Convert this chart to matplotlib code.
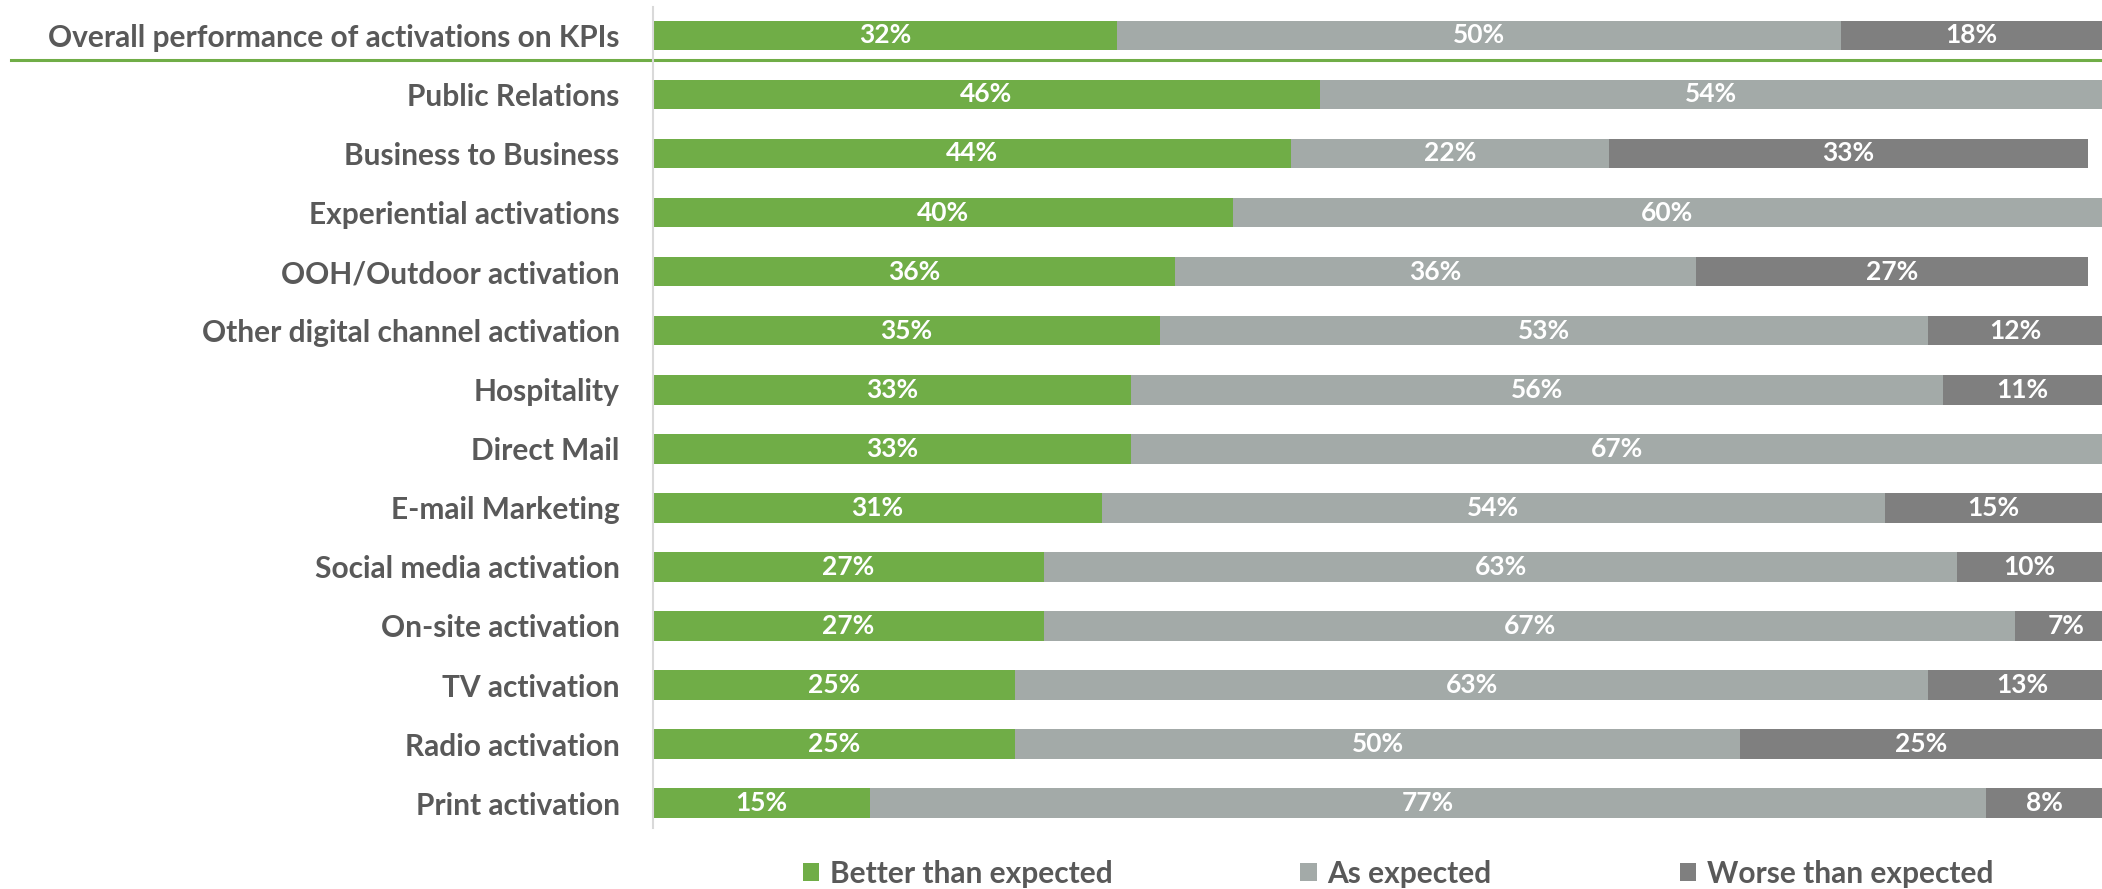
import matplotlib.pyplot as plt
import numpy as np
from matplotlib.transforms import blended_transform_factory

# resultados das ativações (percentual das respostas)
categorias = ["Overall performance of activations on KPIs", "Public Relations",
              "Business to Business", "Experiential activations", "OOH/Outdoor activation",
              "Other digital channel activation", "Hospitality", "Direct Mail",
              "E-mail Marketing", "Social media activation", "On-site activation",
              "TV activation", "Radio activation", "Print activation"]
melhor = [32, 46, 44, 40, 36, 35, 33, 33, 31, 27, 27, 25, 25, 15]
esperado = [50, 54, 22, 60, 36, 53, 56, 67, 54, 63, 67, 63, 50, 77]
pior = [18, 0, 33, 0, 27, 12, 11, 0, 15, 10, 7, 13, 25, 8]
series = ["Better than expected", "As expected", "Worse than expected"]

cores = ["#70AD47", "#A3AAA8", "#7F7F7F"]
cinza_texto = "#595959"
plt.rcParams['font.family'] = ['Lato', 'DejaVu Sans']
plt.rcParams['font.weight'] = 'bold'

fig = plt.figure(figsize=(21.02, 8.89), dpi=100)
ax = fig.add_axes([653/2102, 61/889, 1 - 653/2102, 1 - 61/889 - 7/889])

y = np.arange(len(categorias))
esquerda = np.zeros(len(categorias))
barras = []
for valores, cor, nome in zip([melhor, esperado, pior], cores, series):
    valores = np.array(valores)
    b = ax.barh(y, valores, left=esquerda, height=0.5, color=cor, label=nome)
    barras.append(b)
    for yi, l, v in zip(y, esquerda, valores):
        if v > 0:
            ax.text(l + v/2, yi, f"{v}%", ha="center", va="center",
                    color="white", fontsize=19, fontweight="bold")
    esquerda = esquerda + valores

ax.set_xlim(0, 100)
ax.set_ylim(13.42, -0.48)
ax.set_yticks(y)
ax.set_yticklabels(categorias, fontsize=21.5, color=cinza_texto, fontweight="bold")
ax.tick_params(axis="y", length=0, pad=24)
ax.set_xticks([])
for lado in ["top", "right", "bottom"]:
    ax.spines[lado].set_visible(False)
ax.spines["left"].set_color("#D9D9D9")
ax.spines["left"].set_linewidth(1.5)

# linha verde separando o resultado geral
trans = blended_transform_factory(fig.transFigure, ax.transData)
ax.plot([11/2102, 1], [0.42, 0.42], color="#70AD47", lw=2.2, transform=trans, clip_on=False)

fig.legend(handles=barras, loc="center", bbox_to_anchor=(0.665, 15/889), ncol=3,
           frameon=False, fontsize=21.5, handlelength=0.55, handleheight=0.55,
           handletextpad=0.35, columnspacing=6.3, labelcolor=cinza_texto)

fig.savefig("out.png", dpi=100)
